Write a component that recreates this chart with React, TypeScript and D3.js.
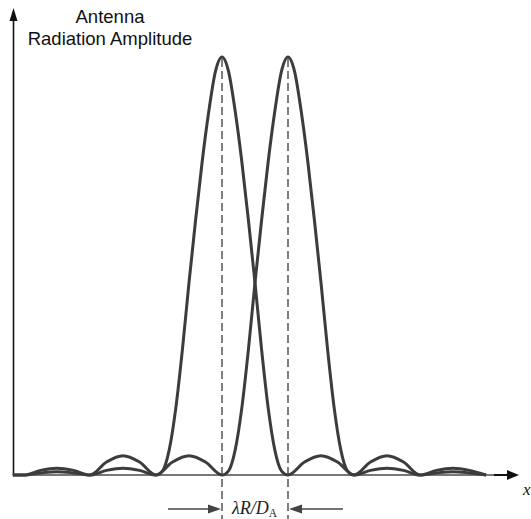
import * as d3 from "d3";

// beam positions in units of lambda*R/D_A (peaks at 3 and 4)
const peaks = [3, 4];

// left beam: [position, relative amplitude]
const leftBeam: [number, number][] = [
    [-0.17, 0], [0, 0], [0.25, 0.011], [0.5, 0.016], [0.75, 0.011], [1, 0],
    [1.25, 0.031], [1.5, 0.046], [1.75, 0.031], [2, 0],
    [2.1, 0.01], [2.2, 0.06], [2.3, 0.16], [2.4, 0.3], [2.5, 0.46], [2.6, 0.61],
    [2.7, 0.75], [2.8, 0.87], [2.9, 0.965], [3, 1], [3.1, 0.965], [3.2, 0.87],
    [3.3, 0.75], [3.4, 0.61], [3.5, 0.46], [3.6, 0.3], [3.7, 0.16], [3.8, 0.06],
    [3.9, 0.01], [4, 0],
    [4.25, 0.031], [4.5, 0.046], [4.75, 0.031], [5, 0],
    [5.25, 0.011], [5.5, 0.016], [5.75, 0.011], [6, 0],
    [6.25, 0.005], [6.5, 0.008], [6.75, 0.005], [7, 0],
];

// right beam
const rightBeam: [number, number][] = [
    [-0.17, 0], [0, 0], [0.25, 0.005], [0.5, 0.008], [0.75, 0.005], [1, 0],
    [1.25, 0.011], [1.5, 0.016], [1.75, 0.011], [2, 0],
    [2.25, 0.031], [2.5, 0.046], [2.75, 0.031], [3, 0],
    [3.1, 0.01], [3.2, 0.06], [3.3, 0.16], [3.4, 0.3], [3.5, 0.46], [3.6, 0.61],
    [3.7, 0.75], [3.8, 0.87], [3.9, 0.965], [4, 1], [4.1, 0.965], [4.2, 0.87],
    [4.3, 0.75], [4.4, 0.61], [4.5, 0.46], [4.6, 0.3], [4.7, 0.16], [4.8, 0.06],
    [4.9, 0.01], [5, 0],
    [5.25, 0.031], [5.5, 0.046], [5.75, 0.031], [6, 0],
    [6.25, 0.011], [6.5, 0.016], [6.75, 0.011], [7, 0],
];

const titleLines = ["Antenna", "Radiation Amplitude"];

const W = 531;
const H = 519;

export default function App() {
    const x = d3.scaleLinear().domain([0, 7]).range([24, 486]);
    const y = d3.scaleLinear().domain([0, 1]).range([475, 57]);

    const line = d3
        .line<[number, number]>()
        .x((d) => x(d[0]))
        .y((d) => y(d[1]))
        .curve(d3.curveMonotoneX);

    const axisX = 13.5;
    const base = y(0);
    const arrowY = 509;
    const sans = "'Liberation Sans', Arial, sans-serif";
    const serif = "'Liberation Serif', 'Times New Roman', serif";

    return (
        <svg width={W} height={H} style={{ position: "absolute", left: 0, top: 0, background: "#fff" }}>
            {/* title */}
            {titleLines.map((t, i) => (
                <text key={t} x={110} y={23 + i * 22} textAnchor="middle" fontFamily={sans} fontSize={18.5} fill="#111">
                    {t}
                </text>
            ))}

            {/* y axis */}
            <line x1={axisX} y1={base} x2={axisX} y2={18} stroke="#111" strokeWidth={1.6} />
            <path d={`M${axisX},8 L${axisX - 4},21 L${axisX + 4},21 Z`} fill="#111" />

            {/* x axis */}
            <line x1={axisX} y1={base} x2={494} y2={base} stroke="#777" strokeWidth={2} />
            <line x1={494} y1={base} x2={509} y2={base} stroke="#111" strokeWidth={2} />
            <path d={`M519,${base} L507,${base - 5} L507,${base + 5} Z`} fill="#111" />
            <text x={523} y={495} fontFamily={serif} fontStyle="italic" fontSize={17} fill="#111">x</text>

            {/* dashed peak markers */}
            {peaks.map((p) => (
                <line key={p} x1={x(p)} y1={y(1) + 2} x2={x(p)} y2={H} stroke="#555" strokeWidth={1.5} strokeDasharray="8,4" />
            ))}

            {/* beams */}
            {[leftBeam, rightBeam].map((d, i) => (
                <path key={i} d={line(d) ?? ""} fill="none" stroke="#3c3c3c" strokeWidth={3} strokeLinejoin="round" />
            ))}

            {/* separation arrows */}
            <line x1={168} y1={arrowY} x2={209} y2={arrowY} stroke="#444" strokeWidth={1.5} />
            <path d={`M${x(peaks[0]) - 1},${arrowY} L${x(peaks[0]) - 14},${arrowY - 4.5} L${x(peaks[0]) - 14},${arrowY + 4.5} Z`} fill="#444" />
            <line x1={301} y1={arrowY} x2={343} y2={arrowY} stroke="#444" strokeWidth={1.5} />
            <path d={`M${x(peaks[1]) + 1},${arrowY} L${x(peaks[1]) + 14},${arrowY - 4.5} L${x(peaks[1]) + 14},${arrowY + 4.5} Z`} fill="#444" />

            <text x={232} y={514} fontFamily={serif} fontStyle="italic" fontSize={18} fill="#222">
                λR/D
                <tspan fontSize={11.5} fontStyle="normal" dy={3}>A</tspan>
            </text>
        </svg>
    );
}
